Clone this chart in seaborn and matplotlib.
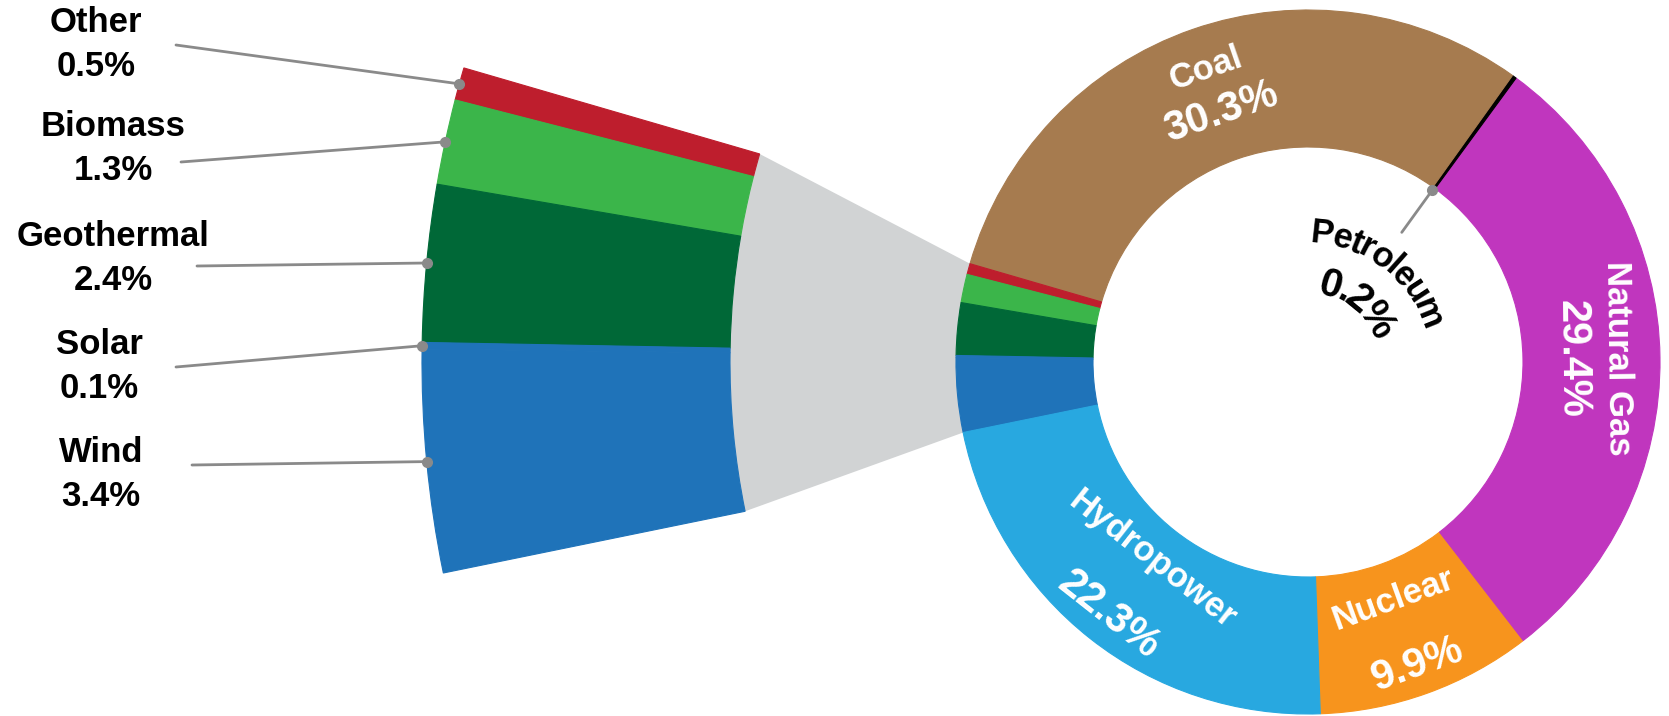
import numpy as np
import matplotlib
matplotlib.use("Agg")
import matplotlib.pyplot as plt
import seaborn as sns
from matplotlib.patches import Polygon
from matplotlib.font_manager import FontProperties
from matplotlib.textpath import TextToPath

# share of generation (%), counter-clockwise round the ring from the bottom
sources = ["Nuclear", "Natural Gas", "Petroleum", "Coal", "Other", "Biomass",
           "Geothermal", "Solar", "Wind", "Hydropower"]
shares = [9.9, 29.4, 0.2, 30.3, 0.5, 1.3, 2.4, 0.1, 3.4, 22.3]
colors = ["#f7941d", "#c036be", "#000000", "#a67b4f", "#be1e2d", "#3bb54a",
          "#006837", "#1f73b9", "#1f73b9", "#28a8e0"]

# slices pulled out into the fan on the left, top to bottom
renewables = ["Other", "Biomass", "Geothermal", "Solar", "Wind"]
# slices labelled inside the ring
ring_labels = ["Coal", "Natural Gas", "Nuclear", "Hydropower"]

W, H = 1669, 716
sns.set_theme(style="white")
plt.rcParams["font.family"] = ["Liberation Sans", "DejaVu Sans"]

fig = plt.figure(figsize=(W / 100, H / 100), dpi=100)
ax = fig.add_axes([0, 0, 1, 1])

# ring
cx, cy, R, r = 1308, H - 362, 352, 215
pal = sns.color_palette(colors)
ring, _ = ax.pie(shares, colors=pal, startangle=-88, counterclock=True,
                 center=(cx, cy), radius=R,
                 wedgeprops=dict(width=R - r, linewidth=0.8))

idx = [sources.index(s) for s in renewables]
ang0 = ring[idx[0]].theta1
ang1 = ring[idx[-1]].theta2

# fan: same angles, bigger radius, centre shifted right
fx, fy, FR, fr = 1475, H - 362, 1053, 745
fan_vals = [shares[i] / sum(shares) for i in idx]
fan, _ = ax.pie(fan_vals, colors=[pal[i] for i in idx], startangle=ang0,
                normalize=False, counterclock=True, center=(fx, fy), radius=FR,
                wedgeprops=dict(width=FR - fr, linewidth=0.8))
for w in list(ring) + list(fan):
    w.set_edgecolor(w.get_facecolor())

# grey connector between the fan and the ring
t = np.radians(np.linspace(ang0, ang1, 80))
pts = np.vstack([np.column_stack([cx + R * np.cos(t), cy + R * np.sin(t)]),
                 np.column_stack([fx + fr * np.cos(t[::-1]), fy + fr * np.sin(t[::-1])])])
ax.add_patch(Polygon(pts, closed=True, facecolor="#d1d3d4", edgecolor="none", zorder=0))

# left labels with leader lines (pixel positions from top-left)
label_x = [96, 113, 113, 99, 101]
label_y = [44, 149, 259, 367, 474]
line_start = [(176, 45), (181, 162), (197, 266), (176, 367), (192, 465)]
grey = "#8a8a8a"
for k, name in enumerate(renewables):
    val = shares[sources.index(name)]
    ax.text(label_x[k], H - label_y[k] + 22, name, ha="center", va="center",
            fontsize=25, fontweight="bold", color="black")
    ax.text(label_x[k], H - label_y[k] - 22, f"{val:.1f}%", ha="center", va="center",
            fontsize=25, fontweight="bold", color="black")
    w = fan[k]
    mid = np.radians((w.theta1 + w.theta2) / 2)
    dx, dy = fx + FR * np.cos(mid), fy + FR * np.sin(mid)
    sx, sy = line_start[k]
    ax.plot([sx, dx], [H - sy, dy], color=grey, lw=2, zorder=3)
    ax.plot(dx, dy, "o", color=grey, ms=7, zorder=4)

# labels inside the ring
for name in ring_labels:
    i = sources.index(name)
    w = ring[i]
    m = ((w.theta1 + w.theta2) / 2 + 180) % 360 - 180
    if m > -45:
        rot, rn, rp = m - 90, 310, 264
    else:
        rot, rn, rp = m + 90, 252, 322
    a = np.radians(m)
    ax.text(cx + rn * np.cos(a), cy + rn * np.sin(a), name, rotation=rot,
            rotation_mode="anchor", ha="center", va="center", color="white",
            fontsize=25, fontweight="bold")
    ax.text(cx + rp * np.cos(a), cy + rp * np.sin(a), f"{shares[i]:.1f}%", rotation=rot,
            rotation_mode="anchor", ha="center", va="center", color="white",
            fontsize=30, fontweight="bold")

# petroleum: leader into the hole and curved text
t2p = TextToPath()


def arc_text(s, radius, centre_deg, size):
    prop = FontProperties(family="Liberation Sans", weight="bold", size=size)

    def px(sub):
        if not sub:
            return 0.0
        return t2p.get_text_width_height_descent(sub, prop, ismath=False)[0] * 100 / 72

    total = px(s)
    for j, ch in enumerate(s):
        s_mid = (px(s[:j]) + px(s[:j + 1])) / 2
        ang = centre_deg + np.degrees((total / 2 - s_mid) / radius)
        a = np.radians(ang)
        ax.text(cx + radius * np.cos(a), cy + radius * np.sin(a), ch, rotation=ang - 90,
                rotation_mode="anchor", ha="center", va="center_baseline",
                fontsize=size, fontweight="bold", color="black")


p = ring[sources.index("Petroleum")]
pm = np.radians((p.theta1 + p.theta2) / 2)
ax.plot([cx + 160 * np.cos(pm), cx + 212 * np.cos(pm)],
        [cy + 160 * np.sin(pm), cy + 212 * np.sin(pm)], color=grey, lw=2, zorder=3)
ax.plot(cx + 212 * np.cos(pm), cy + 212 * np.sin(pm), "o", color=grey, ms=7, zorder=4)
arc_text("Petroleum", 132, 52, 25)
arc_text(f"{shares[sources.index('Petroleum')]:.1f}%", 84, 50, 29)

ax.set_xlim(0, W)
ax.set_ylim(0, H)
ax.set_aspect("equal")
ax.axis("off")
fig.savefig("out.png", dpi=100)
